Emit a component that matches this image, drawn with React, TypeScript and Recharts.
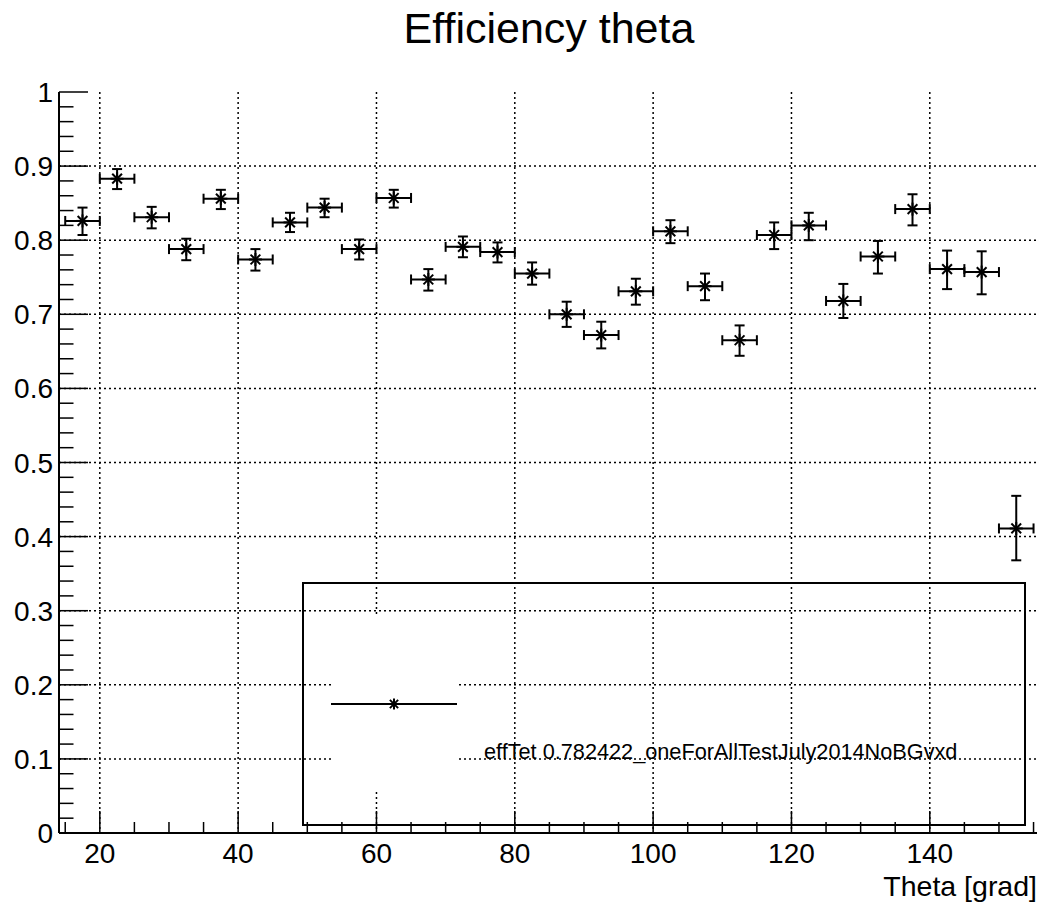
import {
  ComposedChart,
  Scatter,
  ErrorBar,
  XAxis,
  YAxis,
  CartesianGrid,
  Legend,
  Label,
} from "recharts";

const FONT = "'Liberation Sans', Arial, Helvetica, sans-serif";

// bin centres (theta, 5 deg bins) and efficiency per bin
const thetaBins = [
  17.5, 22.5, 27.5, 32.5, 37.5, 42.5, 47.5, 52.5, 57.5, 62.5, 67.5, 72.5, 77.5, 82.5,
  87.5, 92.5, 97.5, 102.5, 107.5, 112.5, 117.5, 122.5, 127.5, 132.5, 137.5, 142.5, 147.5, 152.5,
];
const efficiency = [
  0.826, 0.883, 0.831, 0.788, 0.856, 0.774, 0.824, 0.844, 0.788, 0.857, 0.747, 0.791, 0.784, 0.755,
  0.7, 0.672, 0.731, 0.812, 0.738, 0.665, 0.807, 0.82, 0.718, 0.778, 0.842, 0.761, 0.757, 0.411,
];
const errLow = [
  0.019, 0.014, 0.015, 0.015, 0.014, 0.015, 0.013, 0.013, 0.014, 0.013, 0.015, 0.014, 0.014, 0.015,
  0.017, 0.018, 0.018, 0.016, 0.019, 0.021, 0.019, 0.02, 0.023, 0.023, 0.022, 0.027, 0.03, 0.043,
];
const errHigh = [
  0.018, 0.013, 0.014, 0.014, 0.012, 0.014, 0.013, 0.012, 0.013, 0.011, 0.014, 0.014, 0.013, 0.015,
  0.017, 0.018, 0.017, 0.015, 0.017, 0.02, 0.017, 0.017, 0.023, 0.021, 0.02, 0.025, 0.028, 0.044,
];
const binHalfWidth = 2.5;

const xDomain = [14.1, 155.5];
const xMajorTicks = [20, 40, 60, 80, 100, 120, 140];
const xMinorTicks = [15, 25, 30, 35, 45, 50, 55, 65, 70, 75, 85, 90, 95, 105, 110, 115, 125, 130, 135, 145, 150, 155];
const yMajorTicks = [0, 0.1, 0.2, 0.3, 0.4, 0.5, 0.6, 0.7, 0.8, 0.9, 1];
const yMinorSteps = [0.02, 0.04, 0.06, 0.08];
const yMinorTicks = yMajorTicks
  .slice(0, -1)
  .flatMap((v) => yMinorSteps.map((d) => Number((v + d).toFixed(2))));

const title = "Efficiency theta";
const xTitle = "Theta [grad]";
const seriesName = "effTet 0.782422_oneForAllTestJuly2014NoBGvxd";

const data = thetaBins.map((theta, i) => ({
  theta,
  eff: efficiency[i],
  ex: binHalfWidth,
  ey: [errLow[i], errHigh[i]],
}));

const isMajor = (v: number, list: number[]) => list.some((m) => Math.abs(m - v) < 1e-6);

function XTick(props: any) {
  const { x, y, payload } = props;
  const major = isMajor(payload.value, xMajorTicks);
  return (
    <g>
      <line x1={x} x2={x} y1={y} y2={y - (major ? 22 : 11)} stroke="#000" strokeWidth={1.5} />
      {major && (
        <text x={x} y={y + 30} textAnchor="middle" fontSize={28} fontFamily={FONT} fill="#000">
          {payload.value}
        </text>
      )}
    </g>
  );
}

function YTick(props: any) {
  const { x, y, payload } = props;
  const major = isMajor(payload.value, yMajorTicks);
  return (
    <g>
      <line x1={x} x2={x + (major ? 29 : 14.5)} y1={y} y2={y} stroke="#000" strokeWidth={1.5} />
      {major && (
        <text x={x - 6} y={y} dy="0.36em" textAnchor="end" fontSize={28} fontFamily={FONT} fill="#000">
          {String(payload.value)}
        </text>
      )}
    </g>
  );
}

// ROOT-like asterisk marker
function Star(props: any) {
  const { cx, cy } = props;
  const r = 6.5;
  const d = r * 0.75;
  return (
    <g stroke="#000" strokeWidth={2}>
      <line x1={cx - r} x2={cx + r} y1={cy} y2={cy} />
      <line x1={cx} x2={cx} y1={cy - r} y2={cy + r} />
      <line x1={cx - d} x2={cx + d} y1={cy - d} y2={cy + d} />
      <line x1={cx - d} x2={cx + d} y1={cy + d} y2={cy - d} />
    </g>
  );
}

function XTitleLabel(props: any) {
  const { viewBox } = props;
  return (
    <text x={viewBox.x + viewBox.width} y={viewBox.y + 63} textAnchor="end" fontSize={28.5} fontFamily={FONT} fill="#000">
      {xTitle}
    </text>
  );
}

function RootLegend(props: any) {
  const entry = props.payload && props.payload[0];
  const r = 5.5;
  const d = r * 0.75;
  return (
    <svg width={725} height={245} style={{ display: "block" }}>
      <rect x={1} y={1} width={722} height={242} fill="none" stroke="#000" strokeWidth={2} />
      <rect x={29} y={35} width={126} height={173} fill="#fff" />
      <line x1={29} x2={155} y1={122} y2={122} stroke="#000" strokeWidth={2} />
      <g stroke="#000" strokeWidth={2}>
        <line x1={92 - d} x2={92 + d} y1={122 - d} y2={122 + d} />
        <line x1={92 - d} x2={92 + d} y1={122 + d} y2={122 - d} />
        <line x1={92} x2={92} y1={122 - r} y2={122 + r} />
      </g>
      <text x={182} y={177} fontSize={21.7} fontFamily={FONT} fill="#000">
        {entry ? entry.value : seriesName}
      </text>
    </svg>
  );
}

export default function App() {
  return (
    <div style={{ position: "absolute", left: 0, top: 0, width: 1044, height: 903, background: "#fff" }}>
      <svg
        width={1044}
        height={70}
        style={{ position: "absolute", left: 0, top: 0, pointerEvents: "none" }}
      >
        <text x={549} y={43} textAnchor="middle" fontSize={43} fontFamily={FONT} fill="#000">
          {title}
        </text>
      </svg>
      <ComposedChart
        width={1044}
        height={903}
        data={data}
        margin={{ top: 92, right: 7, bottom: 0, left: 0 }}
      >
        <CartesianGrid
          stroke="#000"
          strokeWidth={1.5}
          strokeDasharray="2 3"
          verticalValues={xMajorTicks}
          horizontalValues={yMajorTicks.slice(1, -1)}
        />
        <XAxis
          dataKey="theta"
          type="number"
          domain={xDomain}
          allowDataOverflow
          ticks={[...xMajorTicks, ...xMinorTicks].sort((a, b) => a - b)}
          interval={0}
          height={70}
          tickSize={0}
          tickMargin={0}
          tickLine={false}
          tick={<XTick />}
          axisLine={{ stroke: "#000", strokeWidth: 2 }}
        >
          <Label content={<XTitleLabel />} />
        </XAxis>
        <XAxis
          xAxisId="top"
          orientation="top"
          type="number"
          domain={xDomain}
          allowDataOverflow
          height={0}
          tick={false}
          tickLine={false}
          axisLine={{ stroke: "#000", strokeWidth: 2 }}
        />
        <YAxis
          type="number"
          domain={[0, 1]}
          allowDataOverflow
          ticks={[...yMajorTicks, ...yMinorTicks].sort((a, b) => a - b)}
          interval={0}
          width={59}
          tickSize={0}
          tickMargin={0}
          tickLine={false}
          tick={<YTick />}
          axisLine={{ stroke: "#000", strokeWidth: 2 }}
        />
        <YAxis
          yAxisId="right"
          orientation="right"
          type="number"
          domain={[0, 1]}
          allowDataOverflow
          width={0}
          tick={false}
          tickLine={false}
          axisLine={{ stroke: "#000", strokeWidth: 2 }}
        />
        <Scatter
          name={seriesName}
          dataKey="eff"
          fill="#000"
          shape={<Star />}
          isAnimationActive={false}
        >
          <ErrorBar dataKey="ex" direction="x" width={5} stroke="#000" strokeWidth={2} isAnimationActive={false} />
          <ErrorBar dataKey="ey" direction="y" width={5} stroke="#000" strokeWidth={2} isAnimationActive={false} />
        </Scatter>
        <Legend
          layout="horizontal"
          verticalAlign="middle"
          align="center"
          content={<RootLegend />}
          wrapperStyle={{ left: 302, top: 582, width: 725, height: 245 }}
        />
      </ComposedChart>
    </div>
  );
}
